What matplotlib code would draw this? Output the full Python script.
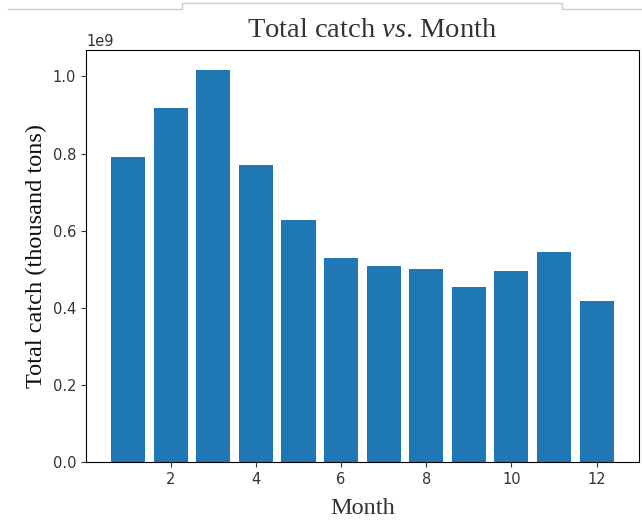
import matplotlib
matplotlib.use("Agg")
import matplotlib.pyplot as plt
from matplotlib.lines import Line2D

# ── Data ───────────────────────────────────────────────────────────────────
months = [1, 2, 3, 4, 5, 6, 7, 8, 9, 10, 11, 12]
total_catch = [0.791e9, 0.917e9, 1.018e9, 0.771e9, 0.628e9, 0.530e9,
               0.509e9, 0.501e9, 0.454e9, 0.495e9, 0.544e9, 0.417e9]

SERIF = "Liberation Serif"
plt.rcParams["mathtext.fontset"] = "custom"
plt.rcParams["mathtext.rm"] = SERIF
plt.rcParams["mathtext.it"] = SERIF + ":italic"

fig = plt.figure(figsize=(6.42, 5.25), dpi=100)
ax = fig.add_axes([0.134, 0.12, 0.861, 0.785])

ax.bar(months, total_catch, color="#1f77b4")

ax.set_title(r"Total catch $\mathit{vs}$. Month", family=SERIF,
             fontsize=20.5, color="#333333", x=0.517, pad=9)
ax.set_xlabel("Month", family=SERIF, fontsize=17.5, color="#333333",
              labelpad=8)
ax.set_ylabel("Total catch (thousand tons)", family=SERIF, fontsize=17.5,
              color="#111111", labelpad=4)
ax.tick_params(labelsize=10.5, colors="#333333")
ax.yaxis.get_offset_text().set_fontsize(10.5)

# thin grey frame lines along the top edge
grey = "#cfcfcf"
pts_x = [8, 182, 182, 562, 562, 642]
pts_y = [9, 9, 3, 3, 9, 9]
fig.add_artist(Line2D([x / 642 for x in pts_x], [1 - y / 525 for y in pts_y],
                      transform=fig.transFigure, color=grey, lw=1))

fig.savefig("out.png", dpi=100)
